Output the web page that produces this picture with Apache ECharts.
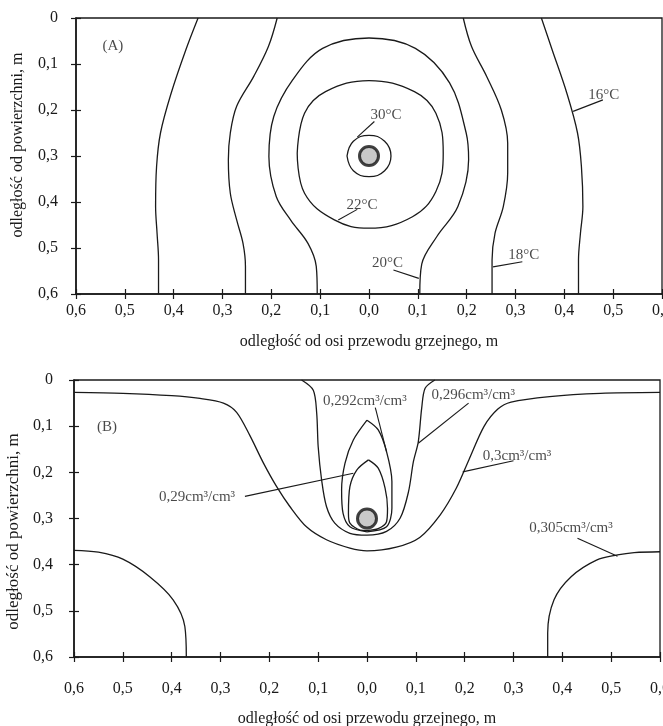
<!DOCTYPE html>
<html><head><meta charset="utf-8">
<script src="https://cdn.jsdelivr.net/npm/echarts@6/dist/echarts.min.js"></script>
<style>html,body{margin:0;padding:0;background:#fff}#c{width:663px;height:726px}</style>
</head><body><div id="c"></div>
<script>
// ---------------- DATA ----------------
const xTickLabels = ['0,6','0,5','0,4','0,3','0,2','0,1','0,0','0,1','0,2','0,3','0,4','0,5','0,6'];
const yTickLabels = ['0','0,1','0,2','0,3','0,4','0,5','0,6'];

// Panel A – isotherms [x, depth]
const tempA16Left  = [[-0.35,0],[-0.375,0.069],[-0.405,0.163],[-0.427,0.25],[-0.435,0.323],[-0.437,0.41],[-0.434,0.468],[-0.431,0.526],[-0.431,0.6]];
const tempA16Right = [[0.353,0],[0.375,0.069],[0.405,0.163],[0.427,0.25],[0.435,0.323],[0.438,0.41],[0.433,0.468],[0.429,0.526],[0.429,0.6]];
const tempA18Left  = [[-0.188,0],[-0.206,0.062],[-0.236,0.127],[-0.271,0.192],[-0.284,0.25],[-0.288,0.308],[-0.284,0.381],[-0.271,0.439],[-0.258,0.49],[-0.253,0.54],[-0.253,0.6]];
const tempA18Right = [[0.193,0],[0.21,0.062],[0.241,0.127],[0.271,0.2],[0.284,0.272],[0.284,0.337],[0.275,0.41],[0.258,0.468],[0.252,0.526],[0.252,0.6]];
const tempA20 = [[-0.106,0.6],[-0.108,0.54],[-0.125,0.49],[-0.16,0.44],[-0.19,0.388],[-0.205,0.301],[-0.195,0.214],[-0.156,0.134],[-0.095,0.066],[0,0.0435],[0.095,0.066],[0.165,0.141],[0.199,0.25],[0.204,0.308],[0.182,0.41],[0.139,0.475],[0.108,0.535],[0.104,0.6]];
const tempA22 = [[-0.147,0.294],[-0.132,0.207],[-0.089,0.16],[0,0.136],[0.093,0.16],[0.137,0.207],[0.152,0.294],[0.137,0.377],[0.089,0.432],[0,0.457],[-0.071,0.439],[-0.132,0.381],[-0.147,0.294]];
const tempA30 = [[-0.045,0.3],[-0.032,0.268],[0,0.255],[0.032,0.268],[0.045,0.3],[0.032,0.332],[0,0.345],[-0.032,0.332],[-0.045,0.3]];

// Panel B – moisture isolines [x, depth]
const moistB300 = [[-0.6,0.027],[-0.5,0.029],[-0.4,0.034],[-0.342,0.04],[-0.294,0.05],[-0.267,0.07],[-0.24,0.12],[-0.212,0.18],[-0.185,0.231],[-0.158,0.274],[-0.124,0.318],[-0.083,0.346],[-0.035,0.364],[0,0.37],[0.06,0.362],[0.108,0.341],[0.15,0.292],[0.183,0.234],[0.209,0.172],[0.24,0.1],[0.268,0.063],[0.295,0.048],[0.374,0.036],[0.478,0.029],[0.6,0.027]];
const moistB296 = [[-0.134,0],[-0.11,0.022],[-0.103,0.072],[-0.1,0.144],[-0.093,0.216],[-0.083,0.274],[-0.066,0.31],[-0.035,0.332],[0,0.336],[0.04,0.328],[0.068,0.299],[0.085,0.242],[0.095,0.177],[0.105,0.134],[0.112,0.061],[0.119,0.018],[0.139,0]];
const moistB292Left  = [[0,0.329],[-0.035,0.318],[-0.049,0.289],[-0.052,0.238],[-0.045,0.18],[-0.028,0.13],[0,0.087]];
const moistB292Right = [[0,0.087],[0.023,0.108],[0.04,0.155],[0.051,0.22],[0.051,0.278],[0.04,0.318],[0,0.329]];
const moistB290Left  = [[0,0.326],[-0.014,0.325],[-0.035,0.31],[-0.038,0.289],[-0.035,0.231],[-0.021,0.195],[0.003,0.173]];
const moistB290Right = [[0.003,0.173],[0.023,0.191],[0.037,0.234],[0.042,0.278],[0.04,0.307],[0.023,0.322],[0,0.326]];
const moistB305Left  = [[-0.6,0.369],[-0.55,0.373],[-0.5,0.388],[-0.445,0.426],[-0.397,0.476],[-0.373,0.534],[-0.37,0.6]];
const moistB305Right = [[0.37,0.6],[0.37,0.548],[0.383,0.476],[0.418,0.426],[0.47,0.39],[0.513,0.379],[0.547,0.374],[0.6,0.372]];

// heater position (x, depth)
const heaterPos = [0, 0.3];

// annotations: [text, x, depth]
const labelsA = [['(A)',-0.547,0.062],['16°C',0.448,0.167],['30°C',0.002,0.21],['22°C',-0.047,0.406],['20°C',0.005,0.533],['18°C',0.284,0.515]];
const leadersA = [[[0.479,0.178],[0.418,0.203]],[[0.011,0.225],[-0.024,0.259]],[[-0.024,0.416],[-0.063,0.439]],[[0.05,0.548],[0.102,0.566]],[[0.314,0.53],[0.254,0.541]]];
const labelsB = [['(B)',-0.554,0.101],['0,292cm³/cm³',-0.091,0.045],['0,296cm³/cm³',0.131,0.032],['0,3cm³/cm³',0.236,0.164],['0,29cm³/cm³',-0.427,0.253],['0,305cm³/cm³',0.331,0.321]];
const leadersB = [[[0.017,0.06],[0.04,0.155]],[[0.208,0.05],[0.105,0.137]],[[0.30,0.175],[0.196,0.199]],[[-0.25,0.252],[-0.028,0.202]],[[0.431,0.343],[0.513,0.382]]];

// ---------------- CHART ----------------
const FONT = '"Liberation Serif", "DejaVu Serif", serif';
const INK = '#1a1a1a';
const LINE = {color: INK, width: 1.3};
const fmtX = v => xTickLabels[Math.round((v + 0.6) / 0.1)] || '';
const fmtY = v => yTickLabels[Math.round(v / 0.1)] || '';

function xAxes(g) {
  const base = {gridIndex: g, type: 'value', min: -0.6, max: 0.6, interval: 0.1, position: 'bottom', splitLine: {show: false}};
  return [
    Object.assign({}, base, {
      axisLine: {show: true, onZero: false, lineStyle: {color: INK, width: 1.6}},
      axisTick: {show: true, length: 5, lineStyle: {color: INK, width: 1.2}},
      axisLabel: {margin: g ? 24 : 9, fontFamily: FONT, fontSize: 16, color: INK, formatter: fmtX, showMinLabel: true, showMaxLabel: true},
      name: 'odległość od osi przewodu grzejnego, m', nameLocation: 'middle', nameGap: g ? 54 : 40,
      nameTextStyle: {fontFamily: FONT, fontSize: 16, color: INK}
    }),
    Object.assign({}, base, {
      axisLine: {show: false, onZero: false},
      axisTick: {show: true, inside: true, length: 5, lineStyle: {color: INK, width: 1.2}},
      axisLabel: {show: false}
    })
  ];
}
function yAxes(g) {
  const base = {gridIndex: g, type: 'value', min: 0, max: 0.6, interval: 0.1, inverse: true, position: 'left', splitLine: {show: false}};
  return [
    Object.assign({}, base, {
      axisLine: {show: true, onZero: false, lineStyle: {color: INK, width: 1.6}},
      axisTick: {show: true, length: 5, lineStyle: {color: INK, width: 1.2}},
      axisLabel: {margin: g ? 21 : 18, fontFamily: FONT, fontSize: 16, color: INK, formatter: fmtY,
                  padding: g ? [28, 0, 0, 0] : 0, showMinLabel: true, showMaxLabel: true},
      name: 'odległość od powierzchni, m', nameLocation: 'middle', nameGap: g ? 49 : 50,
      nameTextStyle: {fontFamily: FONT, fontSize: g ? 17 : 16, color: INK, padding: g ? [0, 26, 0, 0] : [0, 0, 0, 22]}
    }),
    Object.assign({}, base, {
      axisLine: {show: false, onZero: false},
      axisTick: {show: true, inside: true, length: 5, lineStyle: {color: INK, width: 1.2}},
      axisLabel: {show: false}
    })
  ];
}

function contour(data, g, smooth) {
  return {type: 'line', xAxisIndex: g * 2, yAxisIndex: g * 2, data: data, symbol: 'none', showSymbol: false,
          smooth: smooth === undefined ? 0.35 : smooth, lineStyle: LINE, silent: true, z: 3, animation: false};
}
function leader(seg, g) {
  return {type: 'line', xAxisIndex: g * 2, yAxisIndex: g * 2, data: seg, symbol: 'none', showSymbol: false,
          lineStyle: {color: INK, width: 1.1}, silent: true, z: 3, animation: false};
}
function texts(list, g, size) {
  return {type: 'scatter', xAxisIndex: g * 2, yAxisIndex: g * 2, symbolSize: 1, itemStyle: {color: 'rgba(0,0,0,0)'},
          data: list.map(t => ({name: t[0], value: [t[1], t[2]]})),
          label: {show: true, position: 'right', distance: 0, formatter: '{b}', fontFamily: FONT, fontSize: size, color: INK},
          silent: true, z: 5, animation: false};
}
function heater(g) {
  return {type: 'scatter', xAxisIndex: g * 2, yAxisIndex: g * 2, data: [heaterPos], symbol: 'circle', symbolSize: 19,
          itemStyle: {color: '#bcbcbc', borderColor: '#111', borderWidth: 3}, silent: true, z: 6, animation: false};
}

const series = [
  contour(tempA16Left, 0), contour(tempA16Right, 0), contour(tempA18Left, 0), contour(tempA18Right, 0),
  contour(tempA20, 0), contour(tempA22, 0, 0.4), contour(tempA30, 0, 0.45), heater(0),
  contour(moistB300, 1, 0.3), contour(moistB296, 1, 0.3),
  contour(moistB292Left, 1, 0.3), contour(moistB292Right, 1, 0.3),
  contour(moistB290Left, 1, 0.3), contour(moistB290Right, 1, 0.3),
  contour(moistB305Left, 1, 0.35), contour(moistB305Right, 1, 0.35), heater(1),
  texts(labelsA, 0, 15), texts(labelsB, 1, 15)
];
leadersA.forEach(s => series.push(leader(s, 0)));
leadersB.forEach(s => series.push(leader(s, 1)));

const chart = echarts.init(document.getElementById('c'), null, {renderer: 'canvas'});
chart.setOption({
  animation: false,
  backgroundColor: '#fff',
  grid: [
    {left: 76, top: 18, width: 586, height: 276, show: true, borderColor: INK, borderWidth: 1.3, backgroundColor: 'transparent', containLabel: false, outerBoundsMode: 'none'},
    {left: 74, top: 380, width: 586, height: 277, show: true, borderColor: INK, borderWidth: 1.3, backgroundColor: 'transparent', containLabel: false, outerBoundsMode: 'none'}
  ],
  xAxis: xAxes(0).concat(xAxes(1)),
  yAxis: yAxes(0).concat(yAxes(1)),
  series: series
});
</script></body></html>
